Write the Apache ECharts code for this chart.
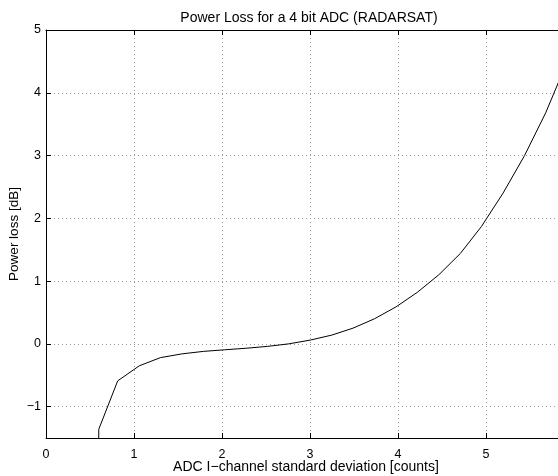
<!DOCTYPE html>
<html>
<head>
<meta charset="utf-8">
<script src="https://cdn.jsdelivr.net/npm/echarts@6/dist/echarts.min.js"></script>
<style>html,body{margin:0;padding:0;background:#fff}#c{width:558px;height:476px}</style>
</head>
<body>
<div id="c"></div>
<script>
var sigma = [0.595, 0.60, 0.815, 1.06, 1.30, 1.545, 1.79, 2.03, 2.275, 2.52, 2.76, 3.005, 3.25, 3.49, 3.735, 3.98, 4.22, 4.465, 4.71, 4.95, 5.195, 5.44, 5.68, 5.925];
var lossDb = [-2.5, -1.36, -0.59, -0.35, -0.22, -0.16, -0.12, -0.095, -0.07, -0.04, 0.0, 0.06, 0.14, 0.25, 0.40, 0.59, 0.82, 1.10, 1.44, 1.87, 2.40, 3.00, 3.68, 4.50];
var xTicks = [0, 1, 2, 3, 4, 5];
var yTicks = [-1, 0, 1, 2, 3, 4, 5];
var titleText = 'Power Loss for a 4 bit ADC (RADARSAT)';
var xName = 'ADC I\u2212channel standard deviation [counts]';
var yName = 'Power loss [dB]';

var font = 'Liberation Sans, Arial, Helvetica, sans-serif';
var pts = sigma.map(function (s, i) { return [s, lossDb[i]]; });
var grid = {color: '#999', type: [1, 3], width: 1};

var chart = echarts.init(document.getElementById('c'), null, {renderer: 'canvas'});
chart.setOption({
  animation: false,
  backgroundColor: '#fff',
  title: {text: titleText, left: 304, top: 6, textAlign: 'center',
    textStyle: {fontFamily: font, fontSize: 14, fontWeight: 'normal', color: '#000'}},
  grid: {left: 46, top: 30, right: 0, bottom: 38, containLabel: false, outerBoundsMode: 'none'},
  xAxis: [{
    type: 'value', min: 0, max: 5.82, position: 'bottom',
    name: xName, nameLocation: 'middle', nameGap: 22, nameMoveOverlap: false,
    nameTextStyle: {fontFamily: font, fontSize: 14, color: '#000', padding: [0, 0, 0, 8]},
    axisLine: {onZero: false, lineStyle: {color: '#000', width: 1}},
    axisTick: {inside: true, length: 5, customValues: xTicks, lineStyle: {color: '#000'}},
    axisLabel: {customValues: xTicks, fontFamily: font, fontSize: 12.5, color: '#000', margin: 10},
    splitLine: {show: true, lineStyle: grid}
  }, {
    type: 'value', min: 0, max: 5.82, position: 'top',
    axisLine: {onZero: false, lineStyle: {color: '#000', width: 1}},
    axisTick: {inside: true, length: 5, customValues: xTicks, lineStyle: {color: '#000'}},
    axisLabel: {show: false},
    splitLine: {show: false}
  }],
  yAxis: [{
    type: 'value', min: -1.5, max: 5,
    name: yName, nameLocation: 'middle', nameGap: 25, nameRotate: 90, nameMoveOverlap: false,
    nameTextStyle: {fontFamily: font, fontSize: 13.5, color: '#000'},
    axisLine: {show: true, onZero: false, lineStyle: {color: '#000', width: 1}},
    axisTick: {show: true, inside: true, length: 5, customValues: yTicks, lineStyle: {color: '#000'}},
    axisLabel: {customValues: yTicks, fontFamily: font, fontSize: 12.5, color: '#000', margin: 5,
      formatter: function (v) { return String(v).replace('-', '\u2212'); }},
    splitLine: {show: true, lineStyle: grid}
  }],
  series: [{
    type: 'line', data: pts, showSymbol: false, symbol: 'none', clip: true,
    lineStyle: {color: '#000', width: 1}
  }]
});
</script>
</body>
</html>
